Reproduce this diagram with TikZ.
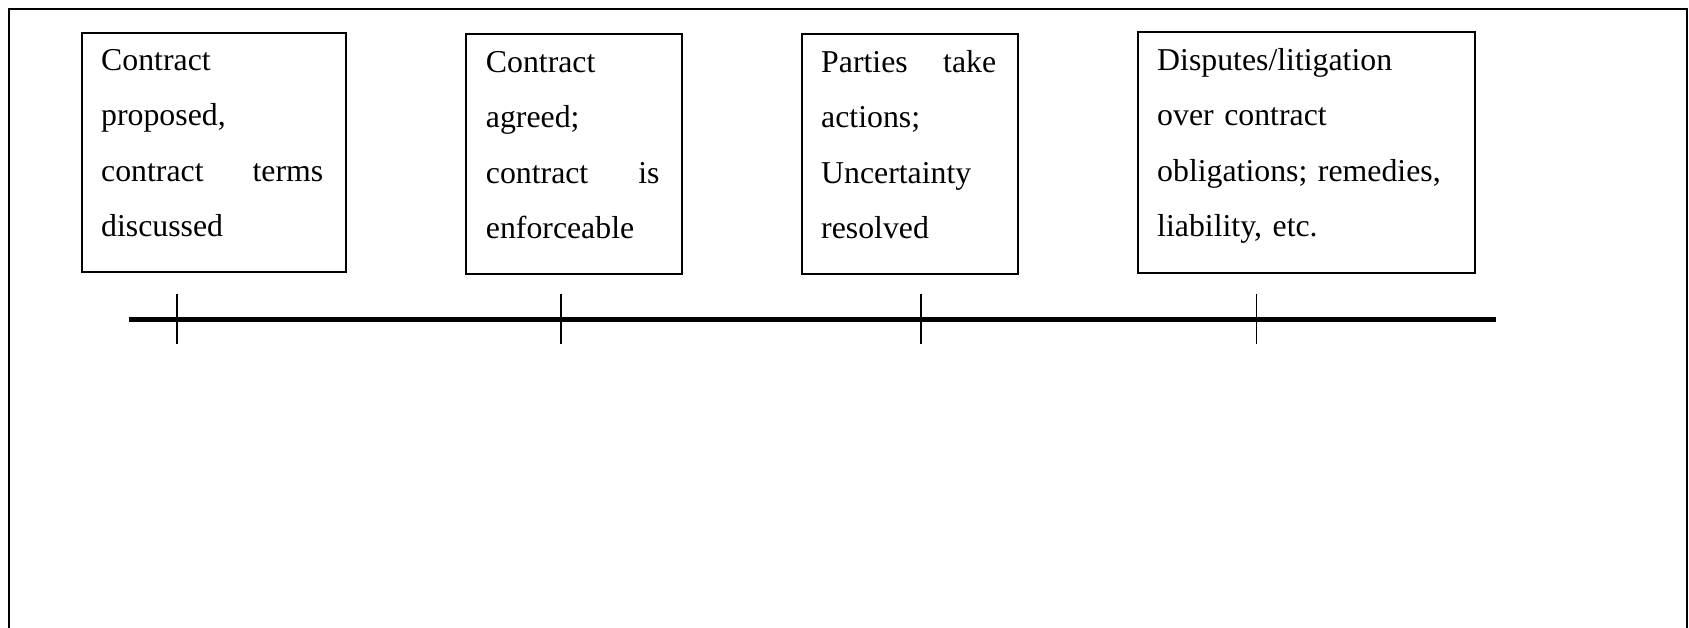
\documentclass[tikz,border=0pt]{standalone}
\usepackage{fontspec}
\setmainfont{Liberation Serif}
\begin{document}
\begin{tikzpicture}[x=1pt,y=-1pt,
  frameline/.style={line width=2.2pt},
  evbox/.style={draw, line width=2pt, rectangle, inner sep=0pt, anchor=north west},
  evtext/.style={inner sep=0pt, anchor=base west, align=left,
    font=\fontsize{31.8pt}{55.3pt}\selectfont},
  timeline/.style={line width=5pt},
  tickline/.style={line width=1.7pt}]
\useasboundingbox (0,0) rectangle (1689,628);
% outer frame (open at the bottom)
\coordinate (f1) at (9.3,628);
\coordinate (f2) at (9.3,9.3);
\coordinate (f3) at (1687,9.3);
\coordinate (f4) at (1687,628);
\draw[frameline] (f1) -- (f2) -- (f3) -- (f4);
% boxes
\node[evbox, minimum width=264.3pt, minimum height=239.3pt] (b1) at (80.7,31.7) {};
\node[evbox, minimum width=216pt, minimum height=240pt] (b2) at (465,32.7) {};
\node[evbox, minimum width=216.3pt, minimum height=240pt] (b3) at (800.7,32.7) {};
\node[evbox, minimum width=337pt, minimum height=240.7pt] (b4) at (1136.5,31) {};
% texts
\node[evtext, text width=222pt] (t1) at (101,70.7)
  {Contract\\proposed,\\contract\hfill terms\\discussed};
\node[evtext, text width=173.6pt] (t2) at (485.7,72.5)
  {Contract\\agreed;\\contract\hfill is\\enforceable};
\node[evtext, text width=175pt] (t3) at (821,72.5)
  {Parties\hfill take\\actions;\\Uncertainty\\resolved};
\node[evtext, text width=295pt] (t4) at (1157,70.7)
  {Disputes/litigation\\over contract\\obligations; remedies,\\liability, etc.};
% timeline
\coordinate (l0) at (129,319.3);
\coordinate (l1) at (1496,319.3);
\draw[timeline] (l0) -- (l1);
\foreach \i/\x in {1/176.7,2/560.7,3/920.7,4/1256.6}{
  \coordinate (k\i a) at (\x,294);
  \coordinate (k\i b) at (\x,344);
  \draw[tickline] (k\i a) -- (k\i b);
}
\end{tikzpicture}
\end{document}
